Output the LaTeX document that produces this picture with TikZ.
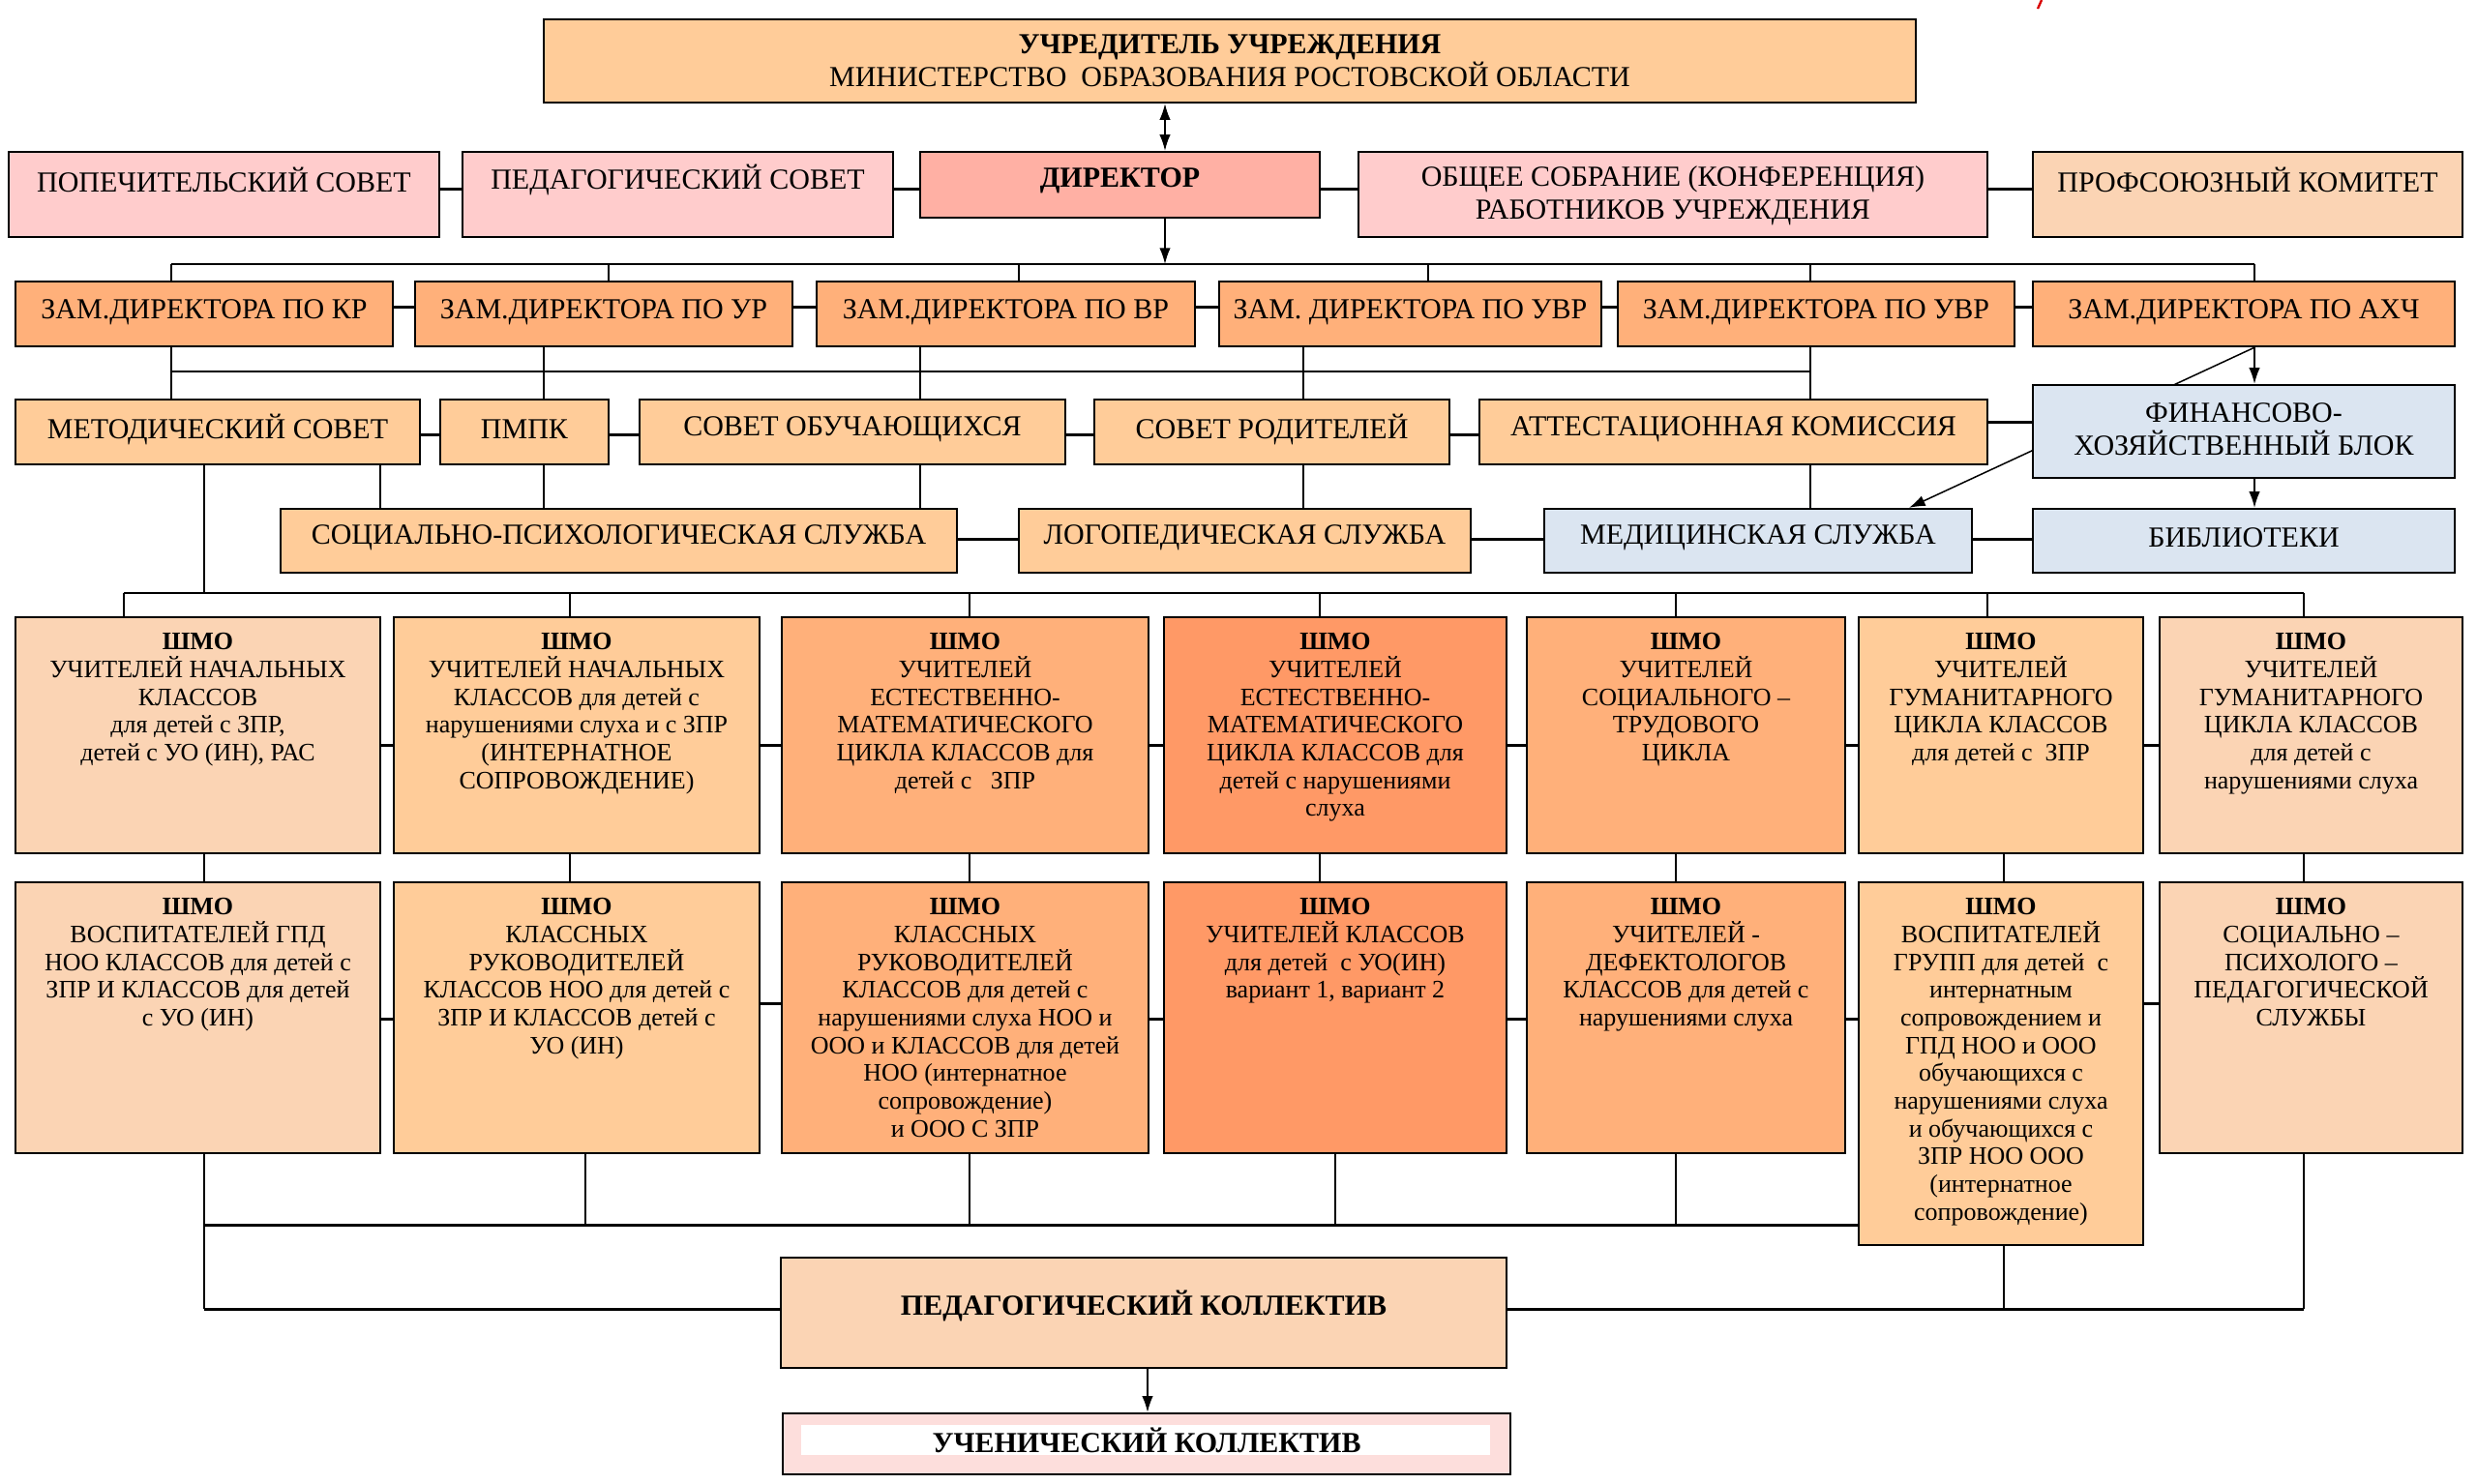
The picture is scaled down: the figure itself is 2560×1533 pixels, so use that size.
\documentclass[tikz,border=0pt]{standalone}
\usepackage{fontspec}
\setmainfont{Liberation Serif}
\usetikzlibrary{arrows.meta,backgrounds}
\definecolor{cTop}{HTML}{FFCC99}
\definecolor{cPink}{HTML}{FFCCCC}
\definecolor{cDir}{HTML}{FFB0A4}
\definecolor{cLight}{HTML}{FBD4B4}
\definecolor{cZam}{HTML}{FFB07A}
\definecolor{cDeep}{HTML}{FF9966}
\definecolor{cBlue}{HTML}{DBE5F1}
\definecolor{cUch}{HTML}{FDDEDC}
\tikzset{
 bx/.style={draw=black, line width=0.7pt, rectangle, inner sep=0pt},
 lbl/.style={font=\fontsize{9}{10.2}\selectfont, align=center, inner sep=0pt},
 shm/.style={font=\fontsize{7.8}{8.6}\selectfont, align=center, inner sep=0pt, anchor=north},
 con/.style={line width=0.45pt},
 bus/.style={line width=0.6pt},
 link/.style={line width=0.9pt},
 tip/.tip={Latex[length=5pt,width=3.4pt]},
 arr/.style={line width=0.45pt, -tip},
}
\newcommand\rbox[9]{%
 \node[bx,fill=#6,minimum width={(#4-#2)*0.3pt},minimum height={(#5-#3)*0.3pt}] (#1) at ({(#2+#4)/2},{(#3+#5)/2}) {};
 \node[lbl,#7] (#1t) at ({(#2+#4)/2},#8) {#9};}
\begin{document}
\begin{tikzpicture}[x=0.3pt,y=-0.3pt]
\useasboundingbox (0,0) rectangle (2560,1533);
\begin{scope}[on background layer]
\fill[white] (0,0) rectangle (2560,1533);
\end{scope}
\foreach \v in {128,177,211,393,562,589,605,629,951,1002,1053,1186,1204,1347,1364,1380,1476,1732,1871,1973,2054,2071,2330,2381}
 \coordinate (x\v) at (\v,0);
\foreach \v in {195,273,317,384,436,449,557,613,770,1037,1053,1266,1353}
 \coordinate (y\v) at (0,\v);
% top levels
\rbox{top}{562}{20}{1980}{106}{cTop}{}{63}{\textbf{УЧРЕДИТЕЛЬ УЧРЕЖДЕНИЯ}\\МИНИСТЕРСТВО\ \ ОБРАЗОВАНИЯ РОСТОВСКОЙ ОБЛАСТИ}
\rbox{pop}{9}{157}{454}{245}{cPink}{}{186}{ПОПЕЧИТЕЛЬСКИЙ СОВЕТ}
\rbox{ped}{478}{157}{923}{245}{cPink}{}{186}{ПЕДАГОГИЧЕСКИЙ СОВЕТ}
\rbox{dir}{951}{157}{1364}{225}{cDir}{}{187}{\textbf{ДИРЕКТОР}}
\rbox{obs}{1404}{157}{2054}{245}{cPink}{}{202}{ОБЩЕЕ СОБРАНИЕ (КОНФЕРЕНЦИЯ)\\РАБОТНИКОВ УЧРЕЖДЕНИЯ}
\rbox{prof}{2101}{157}{2545}{245}{cLight}{}{186}{ПРОФСОЮЗНЫЙ КОМИТЕТ}
% deputies
\rbox{zkr}{16}{291}{406}{358}{cZam}{}{323}{ЗАМ.ДИРЕКТОРА ПО КР}
\rbox{zur}{429}{291}{819}{358}{cZam}{}{323}{ЗАМ.ДИРЕКТОРА ПО УР}
\rbox{zvr}{844}{291}{1235}{358}{cZam}{}{323}{ЗАМ.ДИРЕКТОРА ПО ВР}
\rbox{zuvra}{1260}{291}{1655}{358}{cZam}{}{323}{ЗАМ. ДИРЕКТОРА ПО УВР}
\rbox{zuvrb}{1672}{291}{2082}{358}{cZam}{}{323}{ЗАМ.ДИРЕКТОРА ПО УВР}
\rbox{zahch}{2101}{291}{2537}{358}{cZam}{}{323}{ЗАМ.ДИРЕКТОРА ПО АХЧ}
% councils
\rbox{met}{16}{413}{434}{480}{cTop}{}{444}{МЕТОДИЧЕСКИЙ СОВЕТ}
\rbox{pmpk}{455}{413}{629}{480}{cTop}{}{444}{ПМПК}
\rbox{sob}{661}{413}{1101}{480}{cTop}{}{444}{СОВЕТ ОБУЧАЮЩИХСЯ}
\rbox{srod}{1131}{413}{1498}{480}{cTop}{}{444}{СОВЕТ РОДИТЕЛЕЙ}
\rbox{att}{1529}{413}{2054}{480}{cTop}{}{444}{АТТЕСТАЦИОННАЯ КОМИССИЯ}
% services
\rbox{spsl}{290}{526}{989}{592}{cTop}{}{556}{СОЦИАЛЬНО-ПСИХОЛОГИЧЕСКАЯ СЛУЖБА}
\rbox{logo}{1053}{526}{1520}{592}{cTop}{}{556}{ЛОГОПЕДИЧЕСКАЯ СЛУЖБА}
\rbox{med}{1596}{526}{2038}{592}{cBlue}{}{556}{МЕДИЦИНСКАЯ СЛУЖБА}
\rbox{bib}{2101}{526}{2537}{592}{cBlue}{}{556}{БИБЛИОТЕКИ}
% diagonal behind the finance block
\draw[arr] (zahch.south -| x2330) -- (med.north -| x1973);
\rbox{fin}{2101}{398}{2537}{494}{cBlue}{}{444}{ФИНАНСОВО-\\ХОЗЯЙСТВЕННЫЙ БЛОК}
% SHMO row 1
\rbox{sa}{16}{638}{393}{882}{cLight}{shm}{654}{\textbf{ШМО}\\УЧИТЕЛЕЙ НАЧАЛЬНЫХ\\КЛАССОВ\\для детей с ЗПР,\\детей с УО (ИН), РАС}
\rbox{sb}{407}{638}{785}{882}{cTop}{shm}{654}{\textbf{ШМО}\\УЧИТЕЛЕЙ НАЧАЛЬНЫХ\\КЛАССОВ для детей с\\нарушениями слуха и с ЗПР\\(ИНТЕРНАТНОЕ\\СОПРОВОЖДЕНИЕ)}
\rbox{sc}{808}{638}{1187}{882}{cZam}{shm}{654}{\textbf{ШМО}\\УЧИТЕЛЕЙ\\ЕСТЕСТВЕННО-\\МАТЕМАТИЧЕСКОГО\\ЦИКЛА КЛАССОВ для\\детей с \ \ ЗПР}
\rbox{sd}{1203}{638}{1557}{882}{cDeep}{shm}{654}{\textbf{ШМО}\\УЧИТЕЛЕЙ\\ЕСТЕСТВЕННО-\\МАТЕМАТИЧЕСКОГО\\ЦИКЛА КЛАССОВ для\\детей с нарушениями\\слуха}
\rbox{se}{1578}{638}{1907}{882}{cZam}{shm}{654}{\textbf{ШМО}\\УЧИТЕЛЕЙ\\СОЦИАЛЬНОГО –\\ТРУДОВОГО\\ЦИКЛА}
\rbox{sf}{1921}{638}{2215}{882}{cTop}{shm}{654}{\textbf{ШМО}\\УЧИТЕЛЕЙ\\ГУМАНИТАРНОГО\\ЦИКЛА КЛАССОВ\\для детей с \ ЗПР}
\rbox{sg}{2232}{638}{2545}{882}{cLight}{shm}{654}{\textbf{ШМО}\\УЧИТЕЛЕЙ\\ГУМАНИТАРНОГО\\ЦИКЛА КЛАССОВ\\для детей с\\нарушениями слуха}
% SHMO row 2
\rbox{ta}{16}{912}{393}{1192}{cLight}{shm}{928}{\textbf{ШМО}\\ВОСПИТАТЕЛЕЙ ГПД\\НОО КЛАССОВ для детей с\\ЗПР И КЛАССОВ для детей\\с УО (ИН)}
\rbox{tb}{407}{912}{785}{1192}{cTop}{shm}{928}{\textbf{ШМО}\\КЛАССНЫХ\\РУКОВОДИТЕЛЕЙ\\КЛАССОВ НОО для детей с\\ЗПР И КЛАССОВ детей с\\УО (ИН)}
\rbox{tc}{808}{912}{1187}{1192}{cZam}{shm}{928}{\textbf{ШМО}\\КЛАССНЫХ\\РУКОВОДИТЕЛЕЙ\\КЛАССОВ для детей с\\нарушениями слуха НОО и\\ООО и КЛАССОВ для детей\\НОО (интернатное\\сопровождение)\\и ООО С ЗПР}
\rbox{td}{1203}{912}{1557}{1192}{cDeep}{shm}{928}{\textbf{ШМО}\\УЧИТЕЛЕЙ КЛАССОВ\\для детей \ с УО(ИН)\\вариант 1, вариант 2}
\rbox{te}{1578}{912}{1907}{1192}{cZam}{shm}{928}{\textbf{ШМО}\\УЧИТЕЛЕЙ -\\ДЕФЕКТОЛОГОВ\\КЛАССОВ для детей с\\нарушениями слуха}
\rbox{tf}{1921}{912}{2215}{1287}{cTop}{shm}{928}{\textbf{ШМО}\\ВОСПИТАТЕЛЕЙ\\ГРУПП для детей \ с\\интернатным\\сопровождением и\\ГПД НОО и ООО\\обучающихся с\\нарушениями слуха\\и обучающихся с\\ЗПР НОО ООО\\(интернатное\\сопровождение)}
\rbox{tg}{2232}{912}{2545}{1192}{cLight}{shm}{928}{\textbf{ШМО}\\СОЦИАЛЬНО –\\ПСИХОЛОГО –\\ПЕДАГОГИЧЕСКОЙ\\СЛУЖБЫ}
% collectives
\rbox{pk}{807}{1300}{1557}{1414}{cLight}{}{1350}{\textbf{ПЕДАГОГИЧЕСКИЙ КОЛЛЕКТИВ}}
\rbox{uch}{809}{1461}{1561}{1524}{cUch}{}{1489}{}
\node[fill=white,inner sep=0pt,minimum width={712*0.3pt},minimum height={31*0.3pt}] (uchin) at (1184,1488.5) {};
\node[lbl] (uchtxt) at (1185,1489) {\textbf{УЧЕНИЧЕСКИЙ КОЛЛЕКТИВ}};
% small red mark
\draw[red!85!black,line width=0.7pt] (2110,0) -- (2106,9);
% connectors
\begin{scope}[on background layer]
\draw[con,tip-tip] (top.south -| x1204) -- (dir.north -| x1204);
\draw[arr] (dir.south -| x1204) -- (x1204 |- y273);
\draw[bus] (x177 |- y273) -- (x2330 |- y273);
\foreach \a/\b in {177/zkr,629/zur,1053/zvr,1476/zuvra,1871/zuvrb,2330/zahch}
 \draw[con] (x\a |- y273) -- (\b.north -| x\a);
\foreach \a/\b in {pop/ped,ped/dir,dir/obs,obs/prof}
 \draw[link] (\a.east |- y195) -- (\b.west |- y195);
\foreach \a/\b in {zkr/zur,zur/zvr,zvr/zuvra,zuvra/zuvrb,zuvrb/zahch}
 \draw[link] (\a.east |- y317) -- (\b.west |- y317);
\foreach \a/\b/\c in {177/zkr/met,562/zur/pmpk,951/zvr/sob,1347/zuvra/srod,1871/zuvrb/att}
 \draw[con] (\b.south -| x\a) -- (\c.north -| x\a);
\draw[bus] (x177 |- y384) -- (x1871 |- y384);
\foreach \a/\b in {met/pmpk,pmpk/sob,sob/srod,srod/att}
 \draw[link] (\a.east |- y449) -- (\b.west |- y449);
\draw[link] (att.east |- y436) -- (fin.west |- y436);
\draw[arr] (zahch.south -| x2330) -- (fin.north -| x2330);
\draw[arr] (fin.south -| x2330) -- (bib.north -| x2330);
\foreach \a/\b/\c in {393/met/spsl,562/pmpk/spsl,951/sob/spsl,1347/srod/logo,1871/att/med}
 \draw[con] (\b.south -| x\a) -- (\c.north -| x\a);
\foreach \a/\b in {spsl/logo,logo/med,med/bib}
 \draw[link] (\a.east |- y557) -- (\b.west |- y557);
\draw[con] (met.south -| x211) -- (x211 |- y613);
\draw[bus] (x128 |- y613) -- (x2381 |- y613);
\foreach \a/\b in {128/sa,589/sb,1002/sc,1364/sd,1732/se,2054/sf,2381/sg}
 \draw[con] (x\a |- y613) -- (\b.north -| x\a);
\foreach \a/\b in {sa/sb,sb/sc,sc/sd,sd/se,se/sf,sf/sg}
 \draw[link] (\a.east |- y770) -- (\b.west |- y770);
\foreach \a/\b/\c in {211/sa/ta,589/sb/tb,1002/sc/tc,1364/sd/td,1732/se/te,2071/sf/tf,2381/sg/tg}
 \draw[con] (\b.south -| x\a) -- (\c.north -| x\a);
\foreach \a/\b/\y in {ta/tb/1053,tb/tc/1037,tc/td/1053,td/te/1053,te/tf/1053,tf/tg/1037}
 \draw[link] (\a.east |- y\y) -- (\b.west |- y\y);
\draw[link] (x211 |- y1266) -- (tf.west |- y1266);
\foreach \a/\b in {605/tb,1002/tc,1380/td,1732/te}
 \draw[con] (\b.south -| x\a) -- (x\a |- y1266);
\draw[con] (ta.south -| x211) -- (x211 |- y1353);
\draw[link] (x211 |- y1353) -- (pk.west |- y1353);
\draw[con] (tf.south -| x2071) -- (x2071 |- y1353);
\draw[con] (tg.south -| x2381) -- (x2381 |- y1353);
\draw[link] (pk.east |- y1353) -- (x2381 |- y1353);
\draw[arr] (pk.south -| x1186) -- (uch.north -| x1186);
\end{scope}
\end{tikzpicture}
\end{document}
